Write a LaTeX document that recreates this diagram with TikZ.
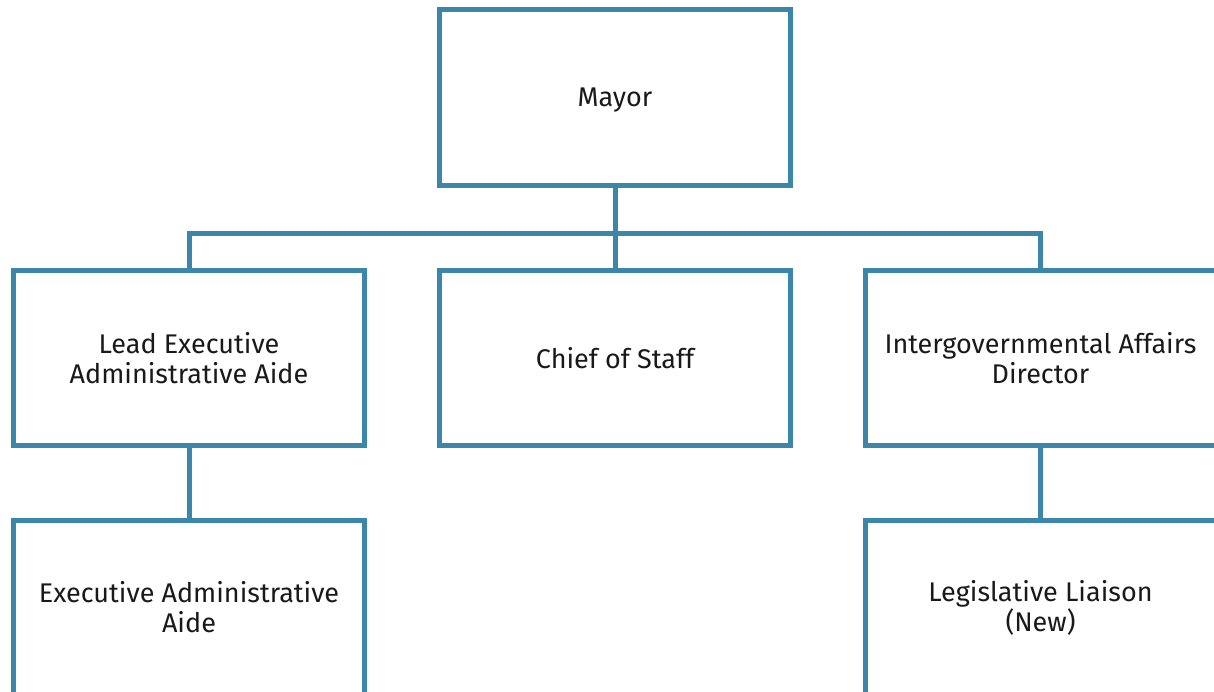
\documentclass[tikz,border=0pt]{standalone}
\usepackage{fontspec}
\setmainfont{Fira Sans}
\definecolor{boxblue}{RGB}{58,135,170}
\begin{document}
\begin{tikzpicture}[x=1bp,y=-1bp,
  orgbox/.style={draw=boxblue, line width=5bp, rectangle, inner sep=0pt,
    minimum width=351bp, minimum height=175bp, align=center,
    font=\fontsize{27bp}{30bp}\selectfont, text=black!90},
  link/.style={draw=boxblue, line width=5bp}]
\clip (0,0) rectangle (1214,692);
\node[orgbox, text depth=0pt] (mayor) at (615,97.5) {Mayor};
\node[orgbox] (lead) at (189,357.75) {Lead Executive\\Administrative Aide};
\node[orgbox] (chief) at (615,357.75) {Chief of Staff};
\node[orgbox] (intg) at (1040.5,357.75) {Intergovernmental Affairs\\Director};
\node[orgbox] (exec) at (189,607.5) {Executive Administrative\\Aide};
\node[orgbox] (legis) at (1040.5,607.5) {Legislative Liaison\\(New)};
\coordinate (bus) at (615,233);
\draw[link] (mayor.south) -- (chief.north);
\draw[link] (lead.north) |- (bus) -| (intg.north);
\draw[link] (lead.south) -- (exec.north);
\draw[link] (intg.south) -- (legis.north);
\end{tikzpicture}
\end{document}
